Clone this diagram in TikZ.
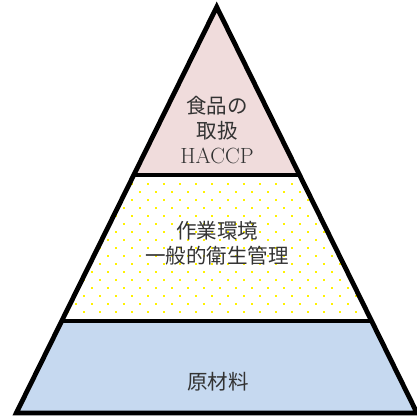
\documentclass[tikz,border=0pt]{standalone}
\usepackage{fontspec}
\newfontfamily\cjk{Noto Sans CJK JP}
\begin{document}
\begin{tikzpicture}[x=1pt,y=1pt,
  edge/.style={line width=4.8pt, line join=miter},
  lbl/.style={align=center, text=black!80, font=\fontsize{20.5}{25}\selectfont, inner sep=0pt}]
\definecolor{topfill}{HTML}{F0DCDC}
\definecolor{basefill}{HTML}{C6D9F0}
\useasboundingbox (0,0) rectangle (416,418);
\coordinate (A) at (216.7,411);
\coordinate (BL) at (16.3,5);
\coordinate (BR) at (417,5);
\coordinate (L1) at (133.8,243);
\coordinate (R1) at (299.6,243);
\coordinate (L2) at (61.8,97);
\coordinate (R2) at (371.6,97);
% fills
\fill[topfill] (A) -- (L1) -- (R1) -- cycle;
\fill[basefill] (L2) -- (BL) -- (BR) -- (R2) -- cycle;
\begin{scope}
  \clip (L1) -- (L2) -- (R2) -- (R1) -- cycle;
  \foreach \i in {0,...,27} {
    \foreach \j in {0,...,10} {
      \fill[yellow] (\i*16+3,\j*16+89) rectangle ++(2.2,2.2);
      \fill[yellow] (\i*16+11,\j*16+97) rectangle ++(2.2,2.2);
    }
  }
\end{scope}
% outline
\draw[edge] (A) -- (BL) -- (BR) -- cycle;
\draw[edge] (L1) -- (R1);
\draw[edge] (L2) -- (R2);
% labels
\node[lbl] (t1) at (217,288) {{\cjk 食品の}\\{\cjk 取扱}\\{\fontsize{22}{25}\selectfont HACCP}};
\node[lbl] (t2) at (217,174.5) {{\cjk 作業環境}\\{\cjk 一般的衛生管理}};
\node[lbl] (t3) at (218,36) {{\cjk 原材料}};
\end{tikzpicture}
\end{document}
